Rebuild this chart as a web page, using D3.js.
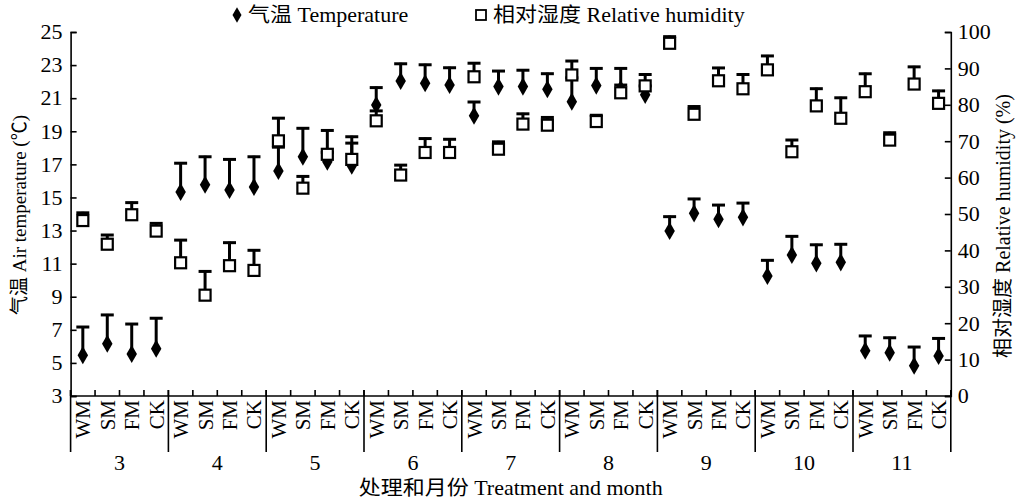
<!DOCTYPE html>
<html><head><meta charset="utf-8">
<script src="https://cdn.jsdelivr.net/npm/d3@7"></script>
<style>
body{margin:0;background:#fff;}
text{font-family:"Liberation Serif","Noto Sans CJK SC",serif;fill:#000;}
</style></head>
<body>
<svg id="c" width="1017" height="501"></svg>
<script>
const months = ["3","4","5","6","7","8","9","10","11"];
const treatments = ["WM","SM","FM","CK"];
const tempMean = [5.46,6.16,5.54,5.86, 15.33,15.77,15.45,15.63, 16.6,17.46,17.16,16.92, 20.59,22.04,21.9,21.8, 19.94,21.7,21.7,21.54, 20.79,21.76,21.55,21.2, 12.97,14.04,13.68,13.8, 10.25,11.52,11.02,11.08, 5.74,5.62,4.83,5.42];
const tempSD   = [1.77,1.80,1.87,1.90, 1.80,1.75,1.91,1.89, 1.5,1.78,1.95,1.81, 1.11,1.10,1.18,1.1, 0.89,1.0,1.05,1.0, 1.5,1.1,1.31,0.6, 0.93,0.93,0.92,0.92, 1.01,1.19,1.18,1.15, 0.95,0.96,1.19,1.12];
const humMean  = [48.2,41.7,49.8,45.3, 36.6,27.7,35.8,34.5, 70.1,57.1,66.4,65.0, 75.6,60.7,66.9,66.9, 87.7,67.8,74.7,74.4, 88.2,75.4,83.3,85.2, 96.9,77.4,86.6,84.4, 89.6,67.1,79.7,76.3, 83.6,70.3,85.7,80.4];
const humSD    = [2.4,2.8,3.6,2.4, 6.5,6.8,6.6,5.8, 6.5,3.5,0.8,4.75, 3.0,3.0,4.1,3.9, 4.0,2.3,3.1,2.4, 4.1,2.0,2.4,3.4, 2.1,2.4,3.8,4.2, 4.1,3.5,5.0,5.9, 5.2,2.3,5.0,3.7];
const tempTicks = [3,5,7,9,11,13,15,17,19,21,23,25];
const humTicks = [0,10,20,30,40,50,60,70,80,90,100];
const legendLabels = ["气温 Temperature","相对湿度 Relative humidity"];
const yLeftTitle = "气温 Air temperature (℃)";
const yRightTitle = "相对湿度 Relative humidity (%)";
const xTitle = "处理和月份 Treatment and month";

const FS = 20, SX = 1.1;
const svg = d3.select("#c");
const L = 70.6, R = 950.8, T = 32, B = 396;
const cats = [];
months.forEach(m => treatments.forEach(t => cats.push(m + "|" + t)));
const x = d3.scaleBand().domain(cats).range([L, R]).padding(0);
const xm = d3.scaleBand().domain(months).range([L, R]).padding(0);
const yT = d3.scaleLinear().domain([3,25]).range([B, T]);
const yH = d3.scaleLinear().domain([0,100]).range([B, T]);

function htext(px, py, str, anchor) {
  return svg.append("g").attr("transform", `translate(${px},${py}) scale(${SX},1)`)
    .append("text").attr("text-anchor", anchor || "start").style("font-size", FS + "px").text(str);
}

// axes
const gl = svg.append("g").attr("transform", `translate(${L},0)`)
  .call(d3.axisLeft(yT).tickValues(tempTicks).tickSize(-6).tickPadding(1).tickFormat(d3.format("d")));
const gr = svg.append("g").attr("transform", `translate(${R},0)`)
  .call(d3.axisRight(yH).tickValues(humTicks).tickSize(-6).tickPadding(1).tickFormat(d3.format("d")));
[gl, gr].forEach(g => {
  g.select(".domain").attr("stroke","#000").attr("stroke-width",1.6);
  g.selectAll(".tick line").attr("stroke","#000").attr("stroke-width",1.6);
  g.selectAll(".tick text").style("font-family",'"Liberation Serif",serif').style("font-size",FS+"px")
    .attr("dy","0.34em").attr("transform",`scale(${SX},1)`);
});
gl.selectAll(".tick text").attr("x", -8/SX);
gr.selectAll(".tick text").attr("x", 7/SX);

// bottom axis
svg.append("line").attr("x1",L).attr("x2",R).attr("y1",B).attr("y2",B).attr("stroke","#000").attr("stroke-width",1.6);
svg.selectAll(".ctick").data(cats).enter().append("line")
  .attr("x1", d => x(d)).attr("x2", d => x(d)).attr("y1", B).attr("y2", B-6)
  .attr("stroke","#000").attr("stroke-width",1.6);
svg.selectAll(".mline").data(months.concat(["end"])).enter().append("line")
  .attr("x1", (d,i) => i < months.length ? xm(d) : R).attr("x2", (d,i) => i < months.length ? xm(d) : R)
  .attr("y1", B-6).attr("y2", 452)
  .attr("stroke","#000").attr("stroke-width",1.6);
svg.selectAll(".clab").data(cats).enter().append("text")
  .attr("transform", d => `translate(${x(d)+x.bandwidth()/2+7.5},400) rotate(-90)`)
  .attr("text-anchor","end").style("font-size","21px")
  .text(d => d.split("|")[1]);
months.forEach(m => htext(xm(m)+xm.bandwidth()/2, 470, m, "middle"));

// titles
htext((L+R)/2, 495, xTitle, "middle");
svg.append("text").attr("transform","translate(26,215) rotate(-90)").attr("text-anchor","middle").style("font-size","19px").text(yLeftTitle);
svg.append("text").attr("transform","translate(1010,226) rotate(-90)").attr("text-anchor","middle").style("font-size","20px").text(yRightTitle);

// legend
const diamond = d3.symbol().type(d3.symbolDiamond).size(70);
svg.append("path").attr("d", diamond()).attr("transform","translate(237,15)").attr("fill","#000");
htext(248, 22, legendLabels[0]);
svg.append("rect").attr("x",476).attr("y",10).attr("width",10).attr("height",10).attr("fill","#fff").attr("stroke","#000").attr("stroke-width",1.8);
htext(493, 22, legendLabels[1]);

const cx = d => x(d) + x.bandwidth()/2;
const capW = 13;
// temperature
const tg = svg.append("g");
cats.forEach((c,i) => {
  const top = yT(tempMean[i] + tempSD[i]);
  tg.append("line").attr("x1",cx(c)).attr("x2",cx(c)).attr("y1",yT(tempMean[i])).attr("y2",top).attr("stroke","#000").attr("stroke-width",3);
  tg.append("line").attr("x1",cx(c)-capW/2).attr("x2",cx(c)+capW/2).attr("y1",top+1).attr("y2",top+1).attr("stroke","#000").attr("stroke-width",3);
});
tg.selectAll("path").data(cats).enter().append("path")
  .attr("d", d3.symbol().type(d3.symbolDiamond).size(95)())
  .attr("transform",(c,i) => `translate(${cx(c)},${yT(tempMean[i])})`).attr("fill","#000");
// humidity
const hg = svg.append("g");
cats.forEach((c,i) => {
  const top = yH(humMean[i] + humSD[i]);
  hg.append("line").attr("x1",cx(c)).attr("x2",cx(c)).attr("y1",yH(humMean[i])).attr("y2",top).attr("stroke","#000").attr("stroke-width",3);
  hg.append("line").attr("x1",cx(c)-capW/2).attr("x2",cx(c)+capW/2).attr("y1",top+1).attr("y2",top+1).attr("stroke","#000").attr("stroke-width",3);
});
hg.selectAll("rect").data(cats).enter().append("rect")
  .attr("x", c => cx(c)-5.5).attr("y",(c,i) => yH(humMean[i])-5.5).attr("width",11).attr("height",11)
  .attr("fill","#fff").attr("stroke","#000").attr("stroke-width",2.2);
</script>
</body></html>
